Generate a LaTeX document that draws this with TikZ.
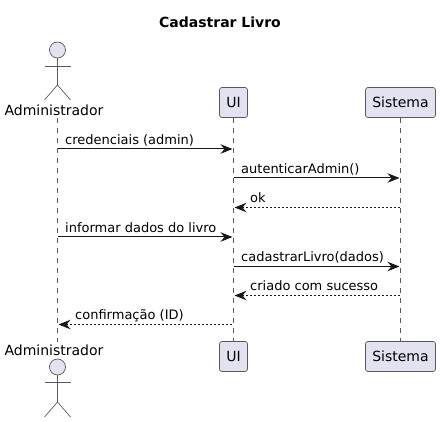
\documentclass[tikz,border=0pt]{standalone}
\usepackage{fontspec}
\setmainfont{DejaVu Sans}
\usetikzlibrary{arrows.meta, positioning}
\definecolor{partfill}{HTML}{E2E2F0}
\definecolor{inkline}{HTML}{181818}
\definecolor{thinline}{HTML}{5A5A5A}

\begin{document}
\begin{tikzpicture}[
    x=1pt, y=-1pt,
    part/.style={rectangle, draw=thinline, fill=partfill, rounded corners=2.5pt, line width=0.7pt, minimum height=30pt, inner sep=0pt, font=\fontsize{14}{16}\selectfont, text=black},
    head/.style={circle, draw=thinline, fill=partfill, line width=0.7pt, minimum size=16pt, inner sep=0pt},
    limb/.style={draw=thinline, line width=0.7pt},
    actorname/.style={inner sep=0pt, font=\fontsize{14}{16}\selectfont},
    life/.style={draw=thinline, line width=0.7pt, dash pattern=on 5pt off 5pt},
    call/.style={-{Stealth[length=12pt, width=9.5pt, inset=4pt]}, draw=inkline, line width=1pt, shorten >=1pt},
    back/.style={{Stealth[length=12pt, width=9.5pt, inset=4pt]}-, draw=inkline, line width=1pt, shorten <=1pt, dash pattern=on 2pt off 2pt},
    msg/.style={inner sep=0pt, anchor=base west, font=\fontsize{13}{15}\selectfont}
]
    \useasboundingbox (0,0) rectangle (440,422);

    \node[inner sep=0pt, font=\fontsize{14}{16}\selectfont\bfseries] (title) at (220,22.5) {Cadastrar Livro};

    % participants
    \node[part, minimum width=28pt] (ui) at (233.5,102.5) {UI};
    \node[part, minimum width=70pt] (sis) at (400.5,102.5) {Sistema};
    \node[part, minimum width=28pt] (uib) at (233.5,356.5) {UI};
    \node[part, minimum width=70pt] (sisb) at (400.5,356.5) {Sistema};

    % actor, top
    \node[head] (adm) at (57.5,50) {};
    \node[actorname] (admname) at (54,110) {Administrador};
    \coordinate (admhip) at (57.5,85);
    \coordinate (admarml) at (44.5,66);
    \coordinate (admarmr) at (70.5,66);
    \coordinate (admlegl) at (44.5,100);
    \coordinate (admlegr) at (70.5,100);
    \draw[limb] (adm) -- (admhip);
    \draw[limb] (admarml) -- (admarmr);
    \draw[limb] (admlegl) -- (admhip) -- (admlegr);

    % actor, bottom
    \node[actorname] (admbname) at (54,350) {Administrador};
    \node[head] (admb) at (57.5,367) {};
    \coordinate (admbhip) at (57.5,402);
    \coordinate (admbarml) at (44.5,382);
    \coordinate (admbarmr) at (70.5,382);
    \coordinate (admblegl) at (44.5,417);
    \coordinate (admblegr) at (70.5,417);
    \draw[limb] (admb) -- (admbhip);
    \draw[limb] (admbarml) -- (admbarmr);
    \draw[limb] (admblegl) -- (admbhip) -- (admblegr);

    % lifelines
    \coordinate (admtop) at (57.5,118);
    \coordinate (admbot) at (57.5,342);
    \draw[life] (admtop) -- (admbot);
    \draw[life] (ui) -- (uib);
    \draw[life] (sis) -- (sisb);

    % message rows
    \foreach \row/\y in {1/149, 2/178, 3/207.5, 4/237, 5/266.5, 6/295.5, 7/324.5} {
        \coordinate (a\row) at (57.5,\y);
        \coordinate (u\row) at (233.5,\y);
        \coordinate (s\row) at (400.5,\y);
    }

    \draw[call] (a1) -- (u1);
    \node[msg] (m1) at (65,144.5) {credenciais (admin)};
    \draw[call] (u2) -- (s2);
    \node[msg] (m2) at (241,173.5) {autenticarAdmin()};
    \draw[back] (u3) -- (s3);
    \node[msg] (m3) at (250,203) {ok};
    \draw[call] (a4) -- (u4);
    \node[msg] (m4) at (65,232.5) {informar dados do livro};
    \draw[call] (u5) -- (s5);
    \node[msg] (m5) at (241,262) {cadastrarLivro(dados)};
    \draw[back] (u6) -- (s6);
    \node[msg] (m6) at (250,291) {criado com sucesso};
    \draw[back] (a7) -- (u7);
    \node[msg] (m7) at (75,320) {confirmação (ID)};
\end{tikzpicture}
\end{document}
